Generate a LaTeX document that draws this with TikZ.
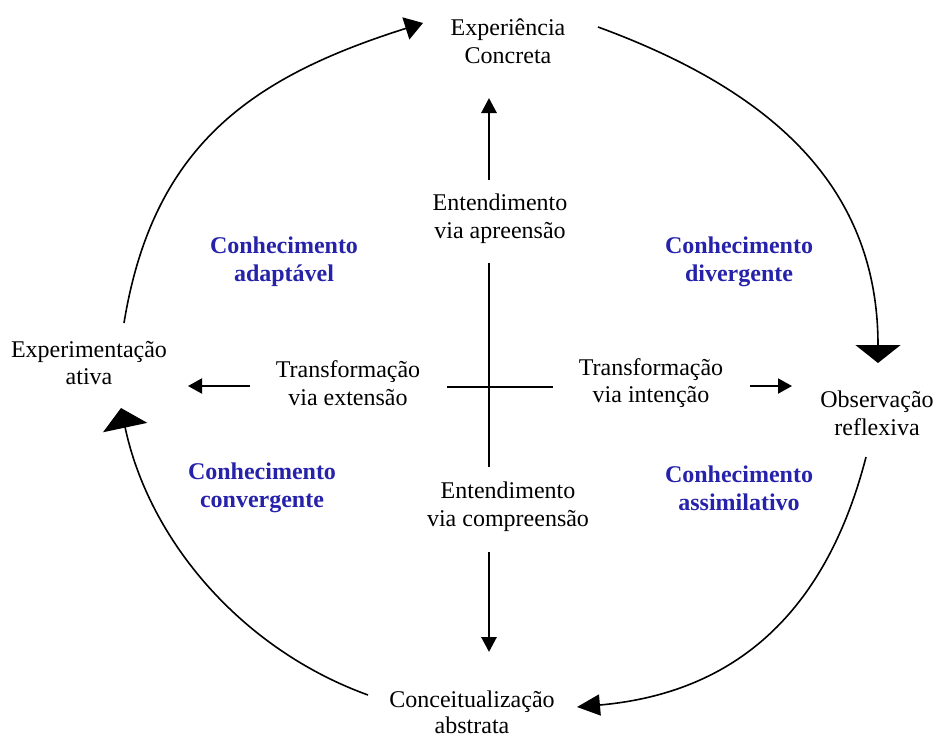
\documentclass[tikz,border=0pt]{standalone}
\usepackage{fontspec}
\setmainfont{Liberation Serif}
\usetikzlibrary{arrows.meta}
\definecolor{kblue}{RGB}{38,34,170}
\begin{document}
\begin{tikzpicture}[x=1pt,y=-1pt,
  lbl/.style={align=center, inner sep=0pt, font=\fontsize{24}{27.6}\selectfont},
  kn/.style={align=center, inner sep=0pt, text=kblue, font=\fontsize{24}{27.6}\selectfont\bfseries},
  cyclearc/.style={line width=1.6pt},
  axisline/.style={line width=2.9pt},
  axisarrow/.style={line width=2.9pt, -{Triangle[length=15pt,width=15pt]}},
  sidearrow/.style={line width=2pt, -{Triangle[length=14pt,width=15pt]}},
]
\useasboundingbox (0,0) rectangle (936,742);

% the four stages of the cycle
\node[lbl] (ec)  at (508,41)  {Experiência\\Concreta};
\node[lbl] (or)  at (877,413) {Observação\\reflexiva};
\node[lbl] (ca)  at (472,712) {Conceitualização\\[-1.5pt]abstrata};
\node[lbl] (ea)  at (89,363)  {Experimentação\\ativa};

% the two axes
\node[lbl] (apr) at (500,219) {Entendimento\\via apreensão};
\node[lbl] (cmp) at (508,507) {Entendimento\\via compreensão};
\node[lbl] (ext) at (348,383) {Transformação\\via extensão};
\node[lbl] (int) at (651,383) {Transformação\\via intenção};

% the four kinds of knowledge
\node[kn] (kad) at (284,262) {Conhecimento\\adaptável};
\node[kn] (kdi) at (739,262) {Conhecimento\\divergente};
\node[kn] (kco) at (262,488) {Conhecimento\\convergente};
\node[kn] (kas) at (739,488) {Conhecimento\\assimilativo};

% ends of the cycle arcs
\coordinate (a1s) at (124,323); \coordinate (a1e) at (423,23);
\coordinate (a2s) at (598,27);  \coordinate (a2e) at (878,363);
\coordinate (a3s) at (866,457); \coordinate (a3e) at (577,707);
\coordinate (a4s) at (368,695); \coordinate (a4e) at (121,408);

\draw[cyclearc, -{Triangle[length=18pt,width=23pt]}]
  (a1s) .. controls (153,145) and (252,77) .. (a1e);
\draw[cyclearc, -{Triangle[length=18pt,width=45pt]}]
  (a2s) .. controls (767,89) and (878,183) .. (a2e);
\draw[cyclearc, -{Triangle[length=23pt,width=21pt]}]
  (a3s) .. controls (826,612) and (736,693) .. (a3e);
\draw[cyclearc, -{Triangle[length=20pt,width=45pt]}]
  (a4s) .. controls (241,649) and (149,540) .. (a4e);

% ends of the axis segments
\coordinate (vtopS) at (489,180); \coordinate (vtopE) at (489,98);
\coordinate (vmidS) at (489,263); \coordinate (vmidE) at (489,467);
\coordinate (vbotS) at (489,552); \coordinate (vbotE) at (489,652);
\coordinate (hS) at (447,387);    \coordinate (hE) at (553,387);
\coordinate (lS) at (250,386);    \coordinate (lE) at (188,386);
\coordinate (rS) at (750,386);    \coordinate (rE) at (792,386);

\draw[axisarrow] (vtopS) -- (vtopE);
\draw[axisline]  (vmidS) -- (vmidE);
\draw[axisarrow] (vbotS) -- (vbotE);
\draw[axisline]  (hS) -- (hE);
\draw[sidearrow] (lS) -- (lE);
\draw[sidearrow] (rS) -- (rE);
\end{tikzpicture}
\end{document}
